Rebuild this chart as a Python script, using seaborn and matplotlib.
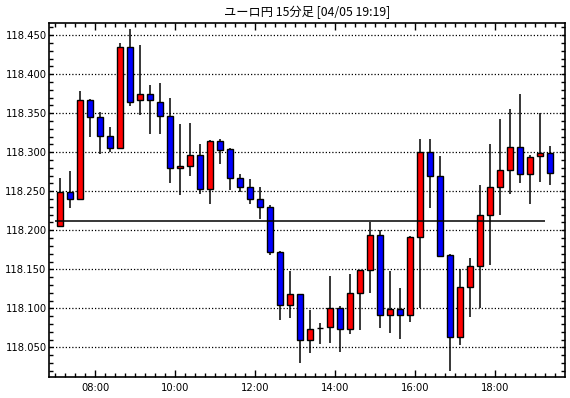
import numpy as np
import pandas as pd
import matplotlib
matplotlib.use("Agg")
import matplotlib.pyplot as plt
import seaborn as sns
from matplotlib.ticker import MultipleLocator, FixedLocator, FixedFormatter

# ---- data (EUR/JPY 15-minute candles, 07:00 .. 19:15) ----
opens = [118.206, 118.249, 118.240, 118.367, 118.345, 118.321, 118.306, 118.435, 118.367, 118.374,
         118.365, 118.347, 118.280, 118.282, 118.297, 118.253, 118.315, 118.304, 118.267, 118.256,
         118.240, 118.230, 118.172, 118.104, 118.118, 118.060, 118.075, 118.076, 118.100, 118.074,
         118.119, 118.149, 118.194, 118.092, 118.099, 118.092, 118.191, 118.300, 118.270, 118.168,
         118.063, 118.127, 118.154, 118.220, 118.255, 118.277, 118.307, 118.272, 118.295, 118.299]
highs = [118.267, 118.276, 118.379, 118.368, 118.351, 118.332, 118.440, 118.458, 118.437, 118.386,
         118.389, 118.370, 118.336, 118.338, 118.310, 118.316, 118.317, 118.306, 118.272, 118.266,
         118.255, 118.232, 118.174, 118.148, 118.118, 118.098, 118.081, 118.141, 118.103, 118.144,
         118.149, 118.211, 118.200, 118.148, 118.126, 118.193, 118.317, 118.317, 118.295, 118.170,
         118.150, 118.164, 118.258, 118.310, 118.343, 118.356, 118.375, 118.297, 118.350, 118.308]
lows = [118.206, 118.229, 118.240, 118.319, 118.298, 118.300, 118.304, 118.359, 118.348, 118.324,
        118.324, 118.260, 118.245, 118.269, 118.246, 118.234, 118.285, 118.252, 118.249, 118.234,
        118.214, 118.168, 118.085, 118.087, 118.030, 118.043, 118.054, 118.056, 118.044, 118.067,
        118.072, 118.119, 118.075, 118.069, 118.061, 118.083, 118.101, 118.228, 118.166, 118.020,
        118.053, 118.089, 118.100, 118.156, 118.219, 118.246, 118.261, 118.234, 118.262, 118.258]
closes = [118.249, 118.240, 118.367, 118.345, 118.321, 118.306, 118.435, 118.365, 118.374, 118.367,
          118.347, 118.280, 118.282, 118.297, 118.253, 118.315, 118.303, 118.267, 118.256, 118.240,
          118.230, 118.172, 118.104, 118.118, 118.059, 118.074, 118.075, 118.100, 118.074, 118.119,
          118.149, 118.194, 118.092, 118.099, 118.092, 118.191, 118.300, 118.269, 118.167, 118.063,
          118.127, 118.154, 118.220, 118.256, 118.277, 118.307, 118.272, 118.294, 118.299, 118.273]
ref_level = 118.2115
x_tick_labels = ["08:00", "10:00", "12:00", "14:00", "16:00", "18:00"]
y_tick_labels = ["118.050", "118.100", "118.150", "118.200", "118.250",
                 "118.300", "118.350", "118.400", "118.450"]
title = "ユーロ円 15分足 [04/05 19:19]"

df = pd.DataFrame({"open": opens, "high": highs, "low": lows, "close": closes})
df["slot"] = np.arange(len(df))
df["x"] = df["slot"] + 0.5
df["up"] = df["close"] >= df["open"]

sns.set_style("ticks")
plt.rcParams["font.family"] = ["DejaVu Sans"]

fig = plt.figure(figsize=(5.70, 3.98), dpi=100)
ax = fig.add_axes([49.3 / 570, 1 - 377 / 398, (565 - 49.3) / 570, (377 - 22.7) / 398])

# wicks
ax.vlines(df["x"], df["low"], df["high"], color="black", linewidth=1.1, zorder=2)
# bodies
colors = np.where(df["up"], "#ff0000", "#0000ff")
ax.bar(df["x"], df["close"] - df["open"], bottom=df["open"], width=0.62,
       color=colors, edgecolor="black", linewidth=1.0, zorder=3)
# reference line
ax.hlines(ref_level, 0, len(df) - 1, color="black", linewidth=1.1, zorder=4)

ax.set_xlim(-0.6, 50.97)
ax.set_ylim(118.012, 118.466)

y_major = [float(s) for s in y_tick_labels]
ax.yaxis.set_major_locator(FixedLocator(y_major))
ax.yaxis.set_major_formatter(FixedFormatter(y_tick_labels))
ax.yaxis.set_minor_locator(MultipleLocator(0.01))
ax.xaxis.set_major_locator(FixedLocator([4, 12, 20, 28, 36, 44]))
ax.xaxis.set_major_formatter(FixedFormatter(x_tick_labels))
ax.xaxis.set_minor_locator(MultipleLocator(1))

ax.grid(axis="y", which="major", color="black", linestyle=(0, (1, 1.6)), linewidth=0.9)
ax.set_axisbelow(True)

for s in ax.spines.values():
    s.set_linewidth(1.2)
    s.set_color("black")

ax.tick_params(which="both", direction="in", top=True, right=True, color="black",
               labelsize=7.2, labelcolor="black")
ax.tick_params(axis="x", which="major", length=5, width=1.0, pad=4)
ax.tick_params(axis="x", which="minor", length=3, width=1.0)
ax.tick_params(axis="y", which="major", length=3, width=1.0, pad=2)
ax.tick_params(axis="y", which="minor", length=3, width=1.0)

fig.text(307 / 570, 1 - 12 / 398, title, ha="center", va="center", fontsize=8.8,
         family=["Noto Sans CJK JP", "DejaVu Sans"], color="black")

fig.savefig("out.png", dpi=100, facecolor="white")
